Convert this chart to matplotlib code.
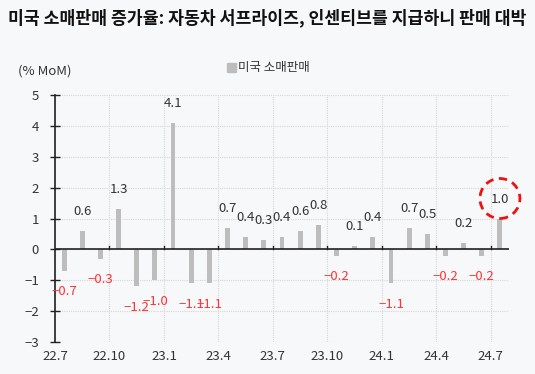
import matplotlib
matplotlib.use("Agg")
import matplotlib.pyplot as plt
from matplotlib.patches import Patch, Circle
from matplotlib.transforms import ScaledTranslation

plt.rcParams['font.family'] = ['Noto Sans CJK KR', 'DejaVu Sans']
plt.rcParams['axes.unicode_minus'] = True

months = ["22.7", "22.8", "22.9", "22.10", "22.11", "22.12",
          "23.1", "23.2", "23.3", "23.4", "23.5", "23.6",
          "23.7", "23.8", "23.9", "23.10", "23.11", "23.12",
          "24.1", "24.2", "24.3", "24.4", "24.5", "24.6", "24.7"]
retail_sales = [-0.7, 0.6, -0.3, 1.3, -1.2, -1.0,
                4.1, -1.1, -1.1, 0.7, 0.4, 0.3,
                0.4, 0.6, 0.8, -0.2, 0.1, 0.4,
                -1.1, 0.7, 0.5, -0.2, 0.2, -0.2, 1.0]
xtick_labels = ["22.7", "22.10", "23.1", "23.4", "23.7", "23.10", "24.1", "24.4", "24.7"]
yticks = [-3, -2, -1, 0, 1, 2, 3, 4, 5]

title = "미국 소매판매 증가율: 자동차 서프라이즈, 인센티브를 지급하니 판매 대박"
unit_label = "(% MoM)"
series_name = "미국 소매판매"

BG = "#f7f8fa"
BAR = "#bdbdbd"
TXT = "#333333"
RED = "#ff3333"

W, H = 535, 374
fig = plt.figure(figsize=(W / 100, H / 100), dpi=100, facecolor=BG)
ax = fig.add_axes([55 / W, 1 - 342 / H, (509 - 55) / W, (342 - 95) / H])
ax.set_facecolor(BG)

x = list(range(len(months)))
ax.bar(x, retail_sales, width=0.27, color=BAR, zorder=3)

# data labels
for xi, v in zip(x, retail_sales):
    if v >= 0:
        ax.annotate(f"{v:.1f}", (xi, v), xytext=(0, 14), textcoords="offset points",
                    ha="center", va="center", fontsize=9.5, color=TXT, zorder=5)
    else:
        ax.annotate(f"\u2212{abs(v):.1f}", (xi, v), xytext=(0, -15), textcoords="offset points",
                    ha="center", va="center", fontsize=9.5, color=RED, zorder=5)

# highlight circle on the last value
last_x, last_v = x[-1], retail_sales[-1]
circ = Circle((0, 0.2), radius=0.2, transform=fig.dpi_scale_trans + ScaledTranslation(last_x, last_v, ax.transData),
              fill=False, edgecolor="#ee1111", linestyle=(0, (3, 2)), linewidth=2.0, zorder=6, clip_on=False)
ax.add_artist(circ)

ax.set_xlim(-0.5, len(months) - 0.5)
ax.set_ylim(-3, 5)

# x ticks at the left boundary of every third month
tick_pos = [months.index(m) - 0.5 for m in xtick_labels]
ax.set_xticks(tick_pos)
ax.set_xticklabels(xtick_labels, fontsize=9.5, color=TXT)
ax.tick_params(axis="x", length=0, pad=6)
ax.set_yticks(yticks)
ax.set_yticklabels([str(t) if t >= 0 else f"\u2212{abs(t)}" for t in yticks], fontsize=9.5, color=TXT)
ax.tick_params(axis="y", direction="inout", length=7, width=1, color="#222222", pad=8)

ax.grid(True, linestyle=(0, (1, 1)), color="#d6d6d6", linewidth=0.8, zorder=0)
for s in ["top", "right", "bottom"]:
    ax.spines[s].set_visible(False)
ax.spines["left"].set_color("#222222")
ax.spines["left"].set_linewidth(1.2)

# zero line with small tick marks
ax.axhline(0, color="#222222", linewidth=1.2, zorder=4)
for tp in tick_pos[1:]:
    ax.plot([tp, tp], [0, 0.12], color="#222222", linewidth=1, zorder=4)

fig.text(8 / W, 1 - 18 / H, title, fontsize=12.4, fontweight="bold", color="#111111", va="center", ha="left")
fig.text(18 / W, 1 - 71 / H, unit_label, fontsize=9.5, color=TXT, va="center", ha="left")

leg = fig.legend(handles=[Patch(facecolor=BAR, edgecolor=BAR, label=series_name)],
                 loc="center left", bbox_to_anchor=(222 / W, 1 - 68 / H), frameon=False,
                 fontsize=9, handlelength=0.7, handleheight=0.7, handletextpad=0.2, borderaxespad=0)
for t in leg.get_texts():
    t.set_color(TXT)

fig.savefig("out.png", dpi=100, facecolor=BG)
